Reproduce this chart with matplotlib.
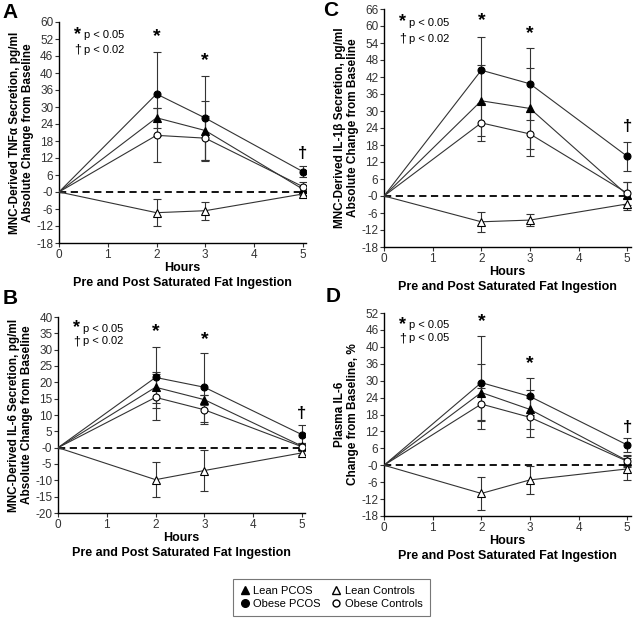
import numpy as np
import matplotlib
matplotlib.use("Agg")
import matplotlib.pyplot as plt
from matplotlib.lines import Line2D

plt.rcParams['font.family'] = ['Liberation Sans', 'DejaVu Sans']

# ---------------------------
# Data
# ---------------------------
hours = [0, 2, 3, 5]

# Panel A: MNC-derived TNFa
tnf_lean_pcos = [0, 26.2, 21.7, 1.0]
tnf_lean_pcos_err = [0, 3.5, 10.3, 1.0]
tnf_obese_pcos = [0, 34.6, 26.1, 7.2]
tnf_obese_pcos_err = [0, 14.7, 15.0, 2.0]
tnf_lean_ctrl = [0, -7.3, -6.6, -0.7]
tnf_lean_ctrl_err = [0, 4.7, 3.2, 0.5]
tnf_obese_ctrl = [0, 20.0, 19.0, 1.9]
tnf_obese_ctrl_err = [0, 9.5, 7.8, 1.5]

# Panel B: MNC-derived IL-6
il6_lean_pcos = [0, 18.5, 14.7, 0.5]
il6_lean_pcos_err = [0, 4.8, 1.5, 1.0]
il6_obese_pcos = [0, 21.5, 18.5, 4.0]
il6_obese_pcos_err = [0, 9.4, 10.5, 2.8]
il6_lean_ctrl = [0, -9.8, -7.0, -1.6]
il6_lean_ctrl_err = [0, 5.4, 6.3, 0.5]
il6_obese_ctrl = [0, 15.4, 11.6, 0.3]
il6_obese_ctrl_err = [0, 7.0, 4.5, 1.0]

# Panel C: MNC-derived IL-1b
il1_lean_pcos = [0, 33.6, 30.9, 0.4]
il1_lean_pcos_err = [0, 12.5, 14.2, 4.5]
il1_obese_pcos = [0, 44.4, 39.6, 14.0]
il1_obese_pcos_err = [0, 11.6, 12.8, 5.0]
il1_lean_ctrl = [0, -9.1, -8.5, -2.8]
il1_lean_ctrl_err = [0, 3.5, 2.2, 2.0]
il1_obese_ctrl = [0, 25.8, 21.9, 1.0]
il1_obese_ctrl_err = [0, 6.5, 7.8, 4.0]

# Panel D: plasma IL-6
pil6_lean_pcos = [0, 25.8, 19.8, 1.6]
pil6_lean_pcos_err = [0, 10.2, 6.8, 2.0]
pil6_obese_pcos = [0, 29.3, 24.4, 7.2]
pil6_obese_pcos_err = [0, 16.6, 6.4, 2.4]
pil6_lean_ctrl = [0, -10.0, -5.2, -1.3]
pil6_lean_ctrl_err = [0, 5.7, 5.0, 4.0]
pil6_obese_ctrl = [0, 21.7, 17.0, 1.4]
pil6_obese_ctrl_err = [0, 5.8, 7.0, 2.0]

# y tick values and the labels as printed in the original figure
ticks_a = list(range(-18, 61, 6))
labels_a = ['-18', '-12', '-6', '-0', '6', '12', '18', '24', '30', '36', '40', '46', '52', '60']
ticks_b = list(range(-20, 41, 5))
labels_b = ['-20', '-15', '-10', '-5', '-0', '5', '10', '15', '20', '25', '30', '35', '40']
ticks_c = list(range(-18, 67, 6))
labels_c = ['-18', '-12', '-6', '-0', '6', '12', '18', '24', '30', '36', '42', '48', '54', '60', '66']
ticks_d = list(range(-18, 55, 6))
labels_d = ['-18', '-12', '-6', '-0', '6', '12', '18', '24', '30', '36', '40', '46', '52']

# significance marks: (x, y, symbol)
sig_a = [(2, 55.0, '*'), (3, 46.5, '*'), (5, 13.5, '\u2020')]
sig_b = [(2, 35.5, '*'), (3, 33.0, '*'), (5, 10.5, '\u2020')]
sig_c = [(2, 62.0, '*'), (3, 57.5, '*'), (5, 24.5, '\u2020')]
sig_d = [(2, 51.0, '*'), (3, 36.0, '*'), (5, 13.5, '\u2020')]

# ---------------------------
# Plotting
# ---------------------------
fig = plt.figure(figsize=(6.34, 6.25), dpi=100)

def draw_panel(rect, letter, letter_xy, series, ticks, labels, ylabel, sig, key_text):
    ax = fig.add_axes(rect)
    ax.axhline(0, color='black', lw=1.3, ls=(0, (4, 2.5)), zorder=1)
    styles = [('^', 'black'), ('o', 'black'), ('^', 'white'), ('o', 'white')]
    for (vals, errs), (mk, fc) in zip(series, styles):
        ax.errorbar(hours, vals, yerr=errs, color='#333333', lw=0.8,
                    elinewidth=0.8, capsize=3, capthick=0.8,
                    marker=mk, ms=5 if mk == 'o' else 5.5, mfc=fc,
                    mec='black', mew=0.8, markevery=[1, 2, 3], zorder=3)
    ax.set_xlim(0, 5.07)
    ax.set_ylim(ticks[0], ticks[-1])
    ax.set_xticks(range(0, 6))
    ax.set_yticks(ticks)
    ax.set_yticklabels(labels)
    ax.tick_params(labelsize=8.5, length=3, width=0.8, pad=1, colors='#333333')
    for s in ['top', 'right']:
        ax.spines[s].set_visible(False)
    for s in ['left', 'bottom']:
        ax.spines[s].set_linewidth(1.0)
    ax.set_xlabel('Hours\nPre and Post Saturated Fat Ingestion',
                  fontsize=9, fontweight='bold', labelpad=1, linespacing=1.3)
    ax.set_ylabel(ylabel, fontsize=8.5, fontweight='bold', labelpad=2, linespacing=1.1)
    for x, y, s in sig:
        ax.text(x, y, s, ha='center', va='center',
                fontsize=14 if s == '*' else 12, fontweight='bold')
    ax.text(0.06, 0.945, '*', transform=ax.transAxes, fontsize=13, fontweight='bold',
            ha='left', va='center')
    ax.text(0.10, 0.94, 'p < 0.05', transform=ax.transAxes, fontsize=8, ha='left', va='center')
    ax.text(0.062, 0.875, '\u2020', transform=ax.transAxes, fontsize=9, ha='left', va='center')
    ax.text(0.10, 0.875, key_text, transform=ax.transAxes, fontsize=8, ha='left', va='center')
    fig.text(letter_xy[0], letter_xy[1], letter, fontsize=15,
             fontweight='bold', ha='left', va='center')
    return ax

draw_panel([0.093, 0.6112, 0.390, 0.3536], 'A', (0.004, 0.980),
           [(tnf_lean_pcos, tnf_lean_pcos_err), (tnf_obese_pcos, tnf_obese_pcos_err),
            (tnf_lean_ctrl, tnf_lean_ctrl_err), (tnf_obese_ctrl, tnf_obese_ctrl_err)],
           ticks_a, labels_a,
           'MNC-Derived TNF\u03b1 Secretion, pg/ml\nAbsolute Change from Baseline',
           sig_a, 'p < 0.02')

draw_panel([0.0915, 0.1792, 0.390, 0.3136], 'B', (0.004, 0.523),
           [(il6_lean_pcos, il6_lean_pcos_err), (il6_obese_pcos, il6_obese_pcos_err),
            (il6_lean_ctrl, il6_lean_ctrl_err), (il6_obese_ctrl, il6_obese_ctrl_err)],
           ticks_b, labels_b,
           'MNC-Derived IL-6 Secretion, pg/ml\nAbsolute Change from Baseline',
           sig_b, 'p < 0.02')

draw_panel([0.6057, 0.6048, 0.389, 0.3808], 'C', (0.510, 0.983),
           [(il1_lean_pcos, il1_lean_pcos_err), (il1_obese_pcos, il1_obese_pcos_err),
            (il1_lean_ctrl, il1_lean_ctrl_err), (il1_obese_ctrl, il1_obese_ctrl_err)],
           ticks_c, labels_c,
           'MNC-Derived IL-1\u03b2 Secretion, pg/ml\nAbsolute Change from Baseline',
           sig_c, 'p < 0.02')

draw_panel([0.6057, 0.1744, 0.389, 0.3248], 'D', (0.514, 0.525),
           [(pil6_lean_pcos, pil6_lean_pcos_err), (pil6_obese_pcos, pil6_obese_pcos_err),
            (pil6_lean_ctrl, pil6_lean_ctrl_err), (pil6_obese_ctrl, pil6_obese_ctrl_err)],
           ticks_d, labels_d,
           'Plasma IL-6\nChange from Baseline, %',
           sig_d, 'p < 0.05')

# shared legend
handles = [
    Line2D([], [], ls='none', marker='^', ms=6, mfc='black', mec='black'),
    Line2D([], [], ls='none', marker='o', ms=5.5, mfc='black', mec='black'),
    Line2D([], [], ls='none', marker='^', ms=6, mfc='white', mec='black'),
    Line2D([], [], ls='none', marker='o', ms=5, mfc='white', mec='black'),
]
names = ['Lean PCOS', 'Obese PCOS', 'Lean Controls', 'Obese Controls']
leg = fig.legend(handles, names, ncol=2, loc='center', bbox_to_anchor=(0.523, 0.044),
                 fontsize=8, frameon=True, fancybox=False, edgecolor='#555555',
                 handlelength=0.8, handletextpad=0.4, columnspacing=1.0,
                 labelspacing=0.3, borderpad=0.6)
leg.get_frame().set_linewidth(0.8)

fig.savefig('out.png', dpi=100, facecolor='white')
